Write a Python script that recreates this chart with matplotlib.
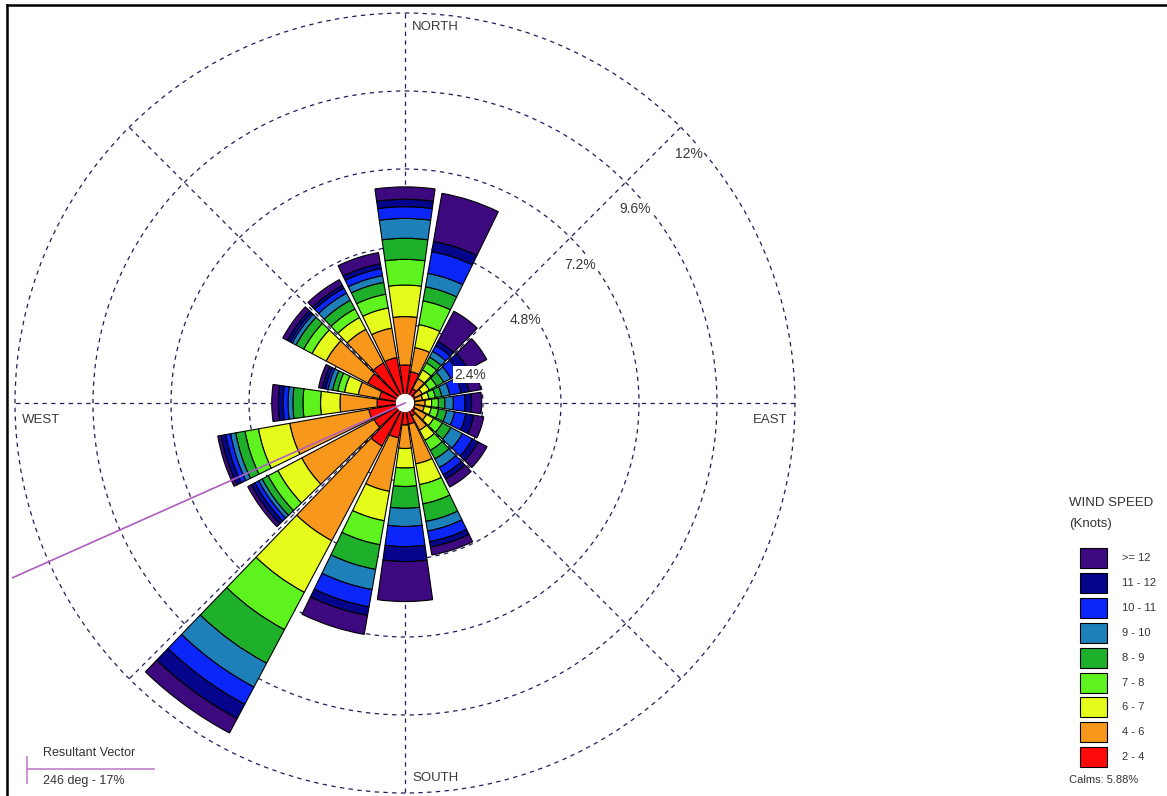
import numpy as np
import matplotlib
matplotlib.use("Agg")
import matplotlib.pyplot as plt
from matplotlib.patches import Rectangle
from matplotlib.lines import Line2D
from matplotlib.transforms import Bbox, TransformedBbox

plt.rcParams['font.family'] = ['Liberation Sans', 'DejaVu Sans']

# 20 direction sectors, 18 degrees apart (degrees clockwise from north)
directions = np.arange(0, 360, 18)

# frequency (%) of each speed class per direction
ws_2_4 = [1.17, 0.98, 0.50, 0.35, 0.30, 0.30, 0.30, 0.35, 0.45, 0.66, 0.68, 1.09, 1.50, 1.08, 1.13, 0.86, 0.80, 1.30, 1.40, 1.42]
ws_4_6 = [1.49, 0.75, 0.35, 0.25, 0.25, 0.32, 0.30, 0.40, 0.50, 1.24, 0.72, 1.67, 3.30, 2.52, 2.47, 1.14, 0.66, 1.45, 1.17, 0.92]
ws_6_7 = [0.97, 0.72, 0.30, 0.25, 0.20, 0.20, 0.22, 0.25, 0.35, 0.65, 0.60, 0.92, 1.80, 0.83, 0.98, 0.60, 0.43, 0.49, 0.41, 0.63]
ws_7_8 = [0.79, 0.74, 0.25, 0.25, 0.20, 0.21, 0.23, 0.30, 0.35, 0.60, 0.57, 0.75, 1.30, 0.34, 0.42, 0.54, 0.21, 0.29, 0.30, 0.43]
ws_8_9 = [0.65, 0.44, 0.20, 0.25, 0.20, 0.20, 0.25, 0.30, 0.30, 0.55, 0.67, 0.77, 1.17, 0.21, 0.29, 0.31, 0.16, 0.27, 0.30, 0.37]
ws_9_10 = [0.61, 0.42, 0.20, 0.25, 0.25, 0.26, 0.25, 0.40, 0.30, 0.30, 0.56, 0.63, 0.83, 0.12, 0.16, 0.15, 0.14, 0.13, 0.25, 0.21]
ws_10_11 = [0.36, 0.68, 0.20, 0.30, 0.35, 0.36, 0.35, 0.35, 0.25, 0.33, 0.62, 0.54, 0.60, 0.13, 0.15, 0.15, 0.08, 0.07, 0.17, 0.22]
ws_11_12 = [0.23, 0.32, 0.15, 0.30, 0.25, 0.20, 0.25, 0.20, 0.15, 0.17, 0.46, 0.27, 0.50, 0.13, 0.15, 0.15, 0.10, 0.10, 0.10, 0.15]
ws_12_up = [0.38, 1.50, 1.05, 0.65, 0.37, 0.31, 0.31, 0.31, 0.28, 0.25, 1.23, 0.59, 0.50, 0.12, 0.10, 0.20, 0.12, 0.16, 0.20, 0.35]

speed_labels = ['2 - 4', '4 - 6', '6 - 7', '7 - 8', '8 - 9', '9 - 10', '10 - 11', '11 - 12', '>= 12']
speed_colors = ['#ff0a0a', '#f7981d', '#e4fb1c', '#5ef31f', '#1fb02b', '#1e80b8', '#0b26fb', '#05058c', '#3c0a7e']

ring_values = [2.4, 4.8, 7.2, 9.6, 12]
ring_labels = ['2.4%', '4.8%', '7.2%', '9.6%', '12%']
calms = 5.88
resultant_dir = 246
resultant_pct = 17

W, H = 1167, 796
fig = plt.figure(figsize=(W / 100, H / 100), dpi=100)


def fx(x):
    return x / W


def fy(y):
    return 1 - y / H


# polar axes: center at (405, 403) px, 12% ring radius 390 px
R = 390
rmax = 12.06
Rax = R * rmax / 12
ax = fig.add_axes([fx(405 - Rax), fy(403 + Rax), 2 * Rax / W, 2 * Rax / H], projection='polar')
ax.set_theta_zero_location('N')
ax.set_theta_direction(-1)
ax.set_ylim(0, rmax)
ax.spines['polar'].set_visible(False)
ax.set_rticks(ring_values)
ax.set_yticklabels([])
ax.set_thetagrids(np.arange(0, 360, 45), labels=[''] * 8)
ax.tick_params(pad=0, length=0)
ax.grid(True, color='#1e1e5c', linestyle=(0, (3.5, 3.5)), linewidth=0.9)
ax.set_axisbelow(True)

theta = np.deg2rad(directions)
width = np.deg2rad(16)
series = [ws_2_4, ws_4_6, ws_6_7, ws_7_8, ws_8_9, ws_9_10, ws_10_11, ws_11_12, ws_12_up]
bottom = np.zeros(len(directions))
for vals, col in zip(series, speed_colors):
    vals = np.array(vals)
    ax.bar(theta, vals, width=width, bottom=bottom, color=col,
           edgecolor='black', linewidth=0.8, zorder=3)
    bottom = bottom + vals

# calm circle in the middle
circ = np.linspace(0, 2 * np.pi, 120)
ax.fill(circ, np.full_like(circ, 0.26), color='white', zorder=4)

# resultant vector
vec, = ax.plot([np.deg2rad(resultant_dir)] * 2, [0, resultant_pct],
               color='#b15cc0', linewidth=1.2, zorder=5, clip_on=True)
vec.set_clip_path(None)
vec.set_clip_box(TransformedBbox(Bbox([[fx(12), 0], [1, 1]]), fig.transFigure))

# ring labels along the NE line
for rv, lab in zip(ring_values, ring_labels):
    ax.annotate(lab, xy=(np.deg2rad(45), rv), xytext=(-6, -27), textcoords='offset pixels',
                ha='left', va='center', fontsize=10, color='#3a3a3a', zorder=6,
                bbox=dict(boxstyle='square,pad=0.1', fc='white', ec='none'))

# compass labels
compass = [('NORTH', 0, (7, -14), 'left'), ('EAST', 90, (-7, -17), 'right'),
           ('SOUTH', 180, (7, 15), 'left'), ('WEST', 270, (7, -17), 'left')]
for lab, ang, off, ha in compass:
    ax.annotate(lab, xy=(np.deg2rad(ang), 12), xytext=off, textcoords='offset pixels',
                ha=ha, va='center', fontsize=9.5, color='#3a3a3a', annotation_clip=False)

# legend
fig.text(fx(1069), fy(503), 'WIND SPEED', fontsize=9.5, color='#333333', va='center', ha='left')
fig.text(fx(1069), fy(524), '(Knots)', fontsize=9.5, color='#333333', va='center', ha='left')
sw_top = 548
for i, (lab, col) in enumerate(zip(speed_labels[::-1], speed_colors[::-1])):
    y0 = sw_top + i * 24.9
    fig.add_artist(Rectangle((fx(1080), fy(y0 + 20)), 27 / W, 20 / H, transform=fig.transFigure,
                             facecolor=col, edgecolor='black', linewidth=0.8))
    fig.text(fx(1122), fy(y0 + 10), lab, fontsize=8, color='#333333', va='center', ha='left')
fig.text(fx(1069), fy(780), 'Calms: %.2f%%' % calms, fontsize=8, color='#333333', va='center', ha='left')

# resultant vector key
fig.add_artist(Line2D([fx(27), fx(27)], [fy(757), fy(783)], transform=fig.transFigure,
                      color='#c080c8', linewidth=1.2))
fig.add_artist(Line2D([fx(27), fx(154)], [fy(769), fy(769)], transform=fig.transFigure,
                      color='#c080c8', linewidth=1.2))
fig.text(fx(43), fy(753), 'Resultant Vector', fontsize=9, color='#333333', va='center', ha='left')
fig.text(fx(43), fy(781), '%d deg - %d%%' % (resultant_dir, resultant_pct), fontsize=9,
         color='#333333', va='center', ha='left')

# frame on top and left
fig.add_artist(Line2D([fx(7), 1], [fy(5), fy(5)], transform=fig.transFigure, color='black', linewidth=1.8))
fig.add_artist(Line2D([fx(7), fx(7)], [fy(5), 0], transform=fig.transFigure, color='black', linewidth=1.8))

fig.savefig('out.png', dpi=100)
